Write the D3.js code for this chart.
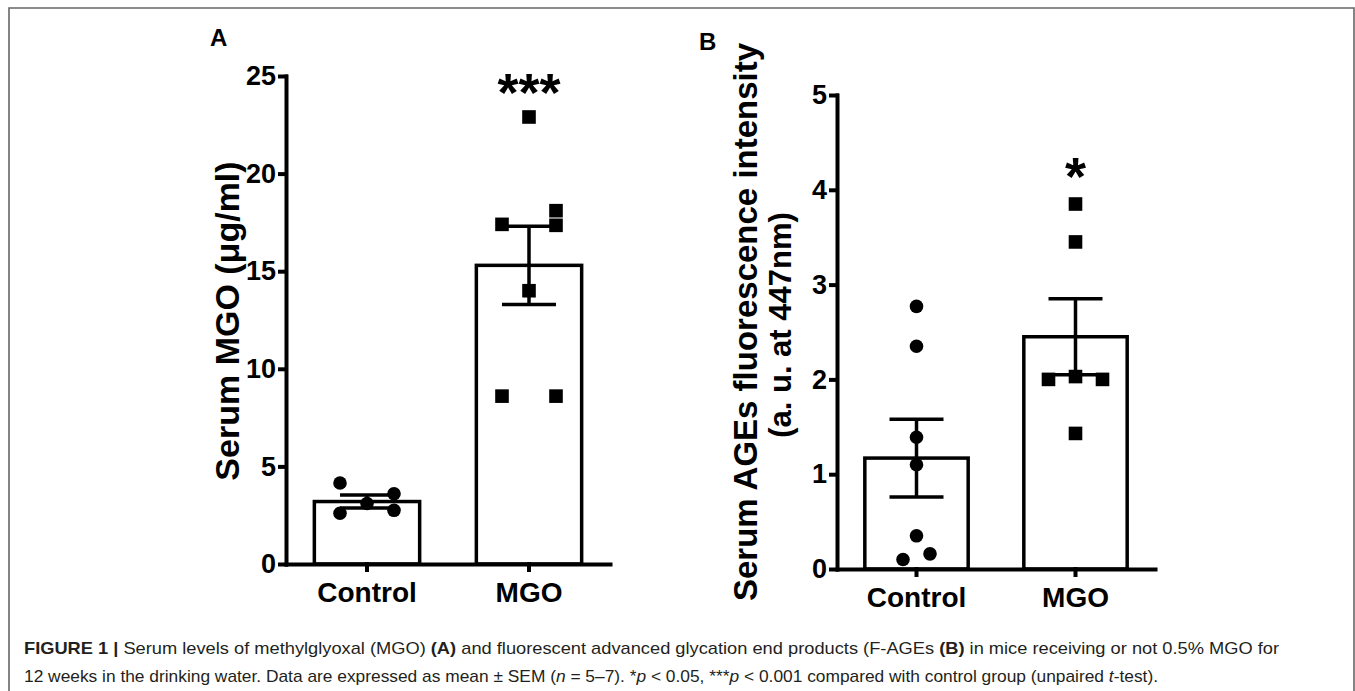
<!DOCTYPE html>
<html>
<head>
<meta charset="utf-8">
<script src="https://cdn.jsdelivr.net/npm/d3@7"></script>
<style>
  body { margin: 0; background: #fff; }
  svg { display: block; font-family: "Liberation Sans", Arial, sans-serif; }
  .axis path, .axis line { stroke: #000; stroke-width: 4; stroke-linecap: square; }
  .axis text { font-size: 27px; font-weight: bold; fill: #000; }
  .xaxis text { font-size: 28px; }
  .bar { fill: #fff; stroke: #000; stroke-width: 3.5; }
  .err { stroke: #000; stroke-width: 3.5; }
  .ylabel { font-weight: bold; text-anchor: middle; }
  .panel { font-size: 24px; font-weight: bold; }
  .caption { font-size: 17px; fill: #231f20; }
</style>
</head>
<body>
<script>
//Global variables
const width = 1355;
const height = 691;

//Data
const groups = ["Control", "MGO"];

//Panel A: serum MGO (ug/ml)
const mgoControl = [4.15, 2.6, 3.1, 3.6, 2.75];
const mgoTreated = [22.9, 18.1, 17.4, 17.35, 14.0, 8.6, 8.6];
const mgoMean = [3.2, 15.3];
const mgoSem = [0.33, 2.0];
const mgoTicks = [0, 5, 10, 15, 20, 25];

//Panel B: serum AGEs fluorescence (a.u.)
const agesControl = [2.77, 2.35, 1.39, 1.10, 0.35, 0.10, 0.16];
const agesTreated = [3.85, 3.45, 2.0, 2.03, 2.0, 1.43];
const agesMean = [1.17, 2.45];
const agesSem = [0.41, 0.4];
const agesTicks = [0, 1, 2, 3, 4, 5];

//column slot of each dot inside its group (dot plot layout)
const slotA = [[-1, -1, 0, 1, 1], [0, 1, -1, 1, 0, -1, 1]];
const slotB = [[0, 0, 0, 0, 0, -0.5, 0.5], [0, 0, -1, 0, 1, 0]];

const svg = d3.select("body")
    .append("svg")
    .attr("width", width)
    .attr("height", height);

//Frame
svg.append("path")
    .attr("d", `M9,${height} V8 H1354 V${height}`)
    .attr("fill", "none")
    .attr("stroke", "#666")
    .attr("stroke-width", 1.6);

//one bar + dot panel
function drawPanel(opt) {
    const y = d3.scaleLinear()
        .domain([0, opt.max])
        .range([opt.bottom, opt.top]);

    const x = d3.scaleBand()
        .domain(groups)
        .range([opt.left, opt.left + 2 * opt.step])
        .paddingInner(0.35)
        .paddingOuter(0.175);

    const g = svg.append("g");

    //bars
    g.selectAll(".bar")
        .data(groups)
        .join("rect")
        .attr("class", "bar")
        .attr("x", d => x(d))
        .attr("width", x.bandwidth())
        .attr("y", (d, i) => y(opt.mean[i]))
        .attr("height", (d, i) => y(0) - y(opt.mean[i]));

    //dots
    groups.forEach((grp, i) => {
        const cx = x(grp) + x.bandwidth() / 2;
        const pts = opt.values[i].map((v, j) => ({v: v, s: opt.slots[i][j]}));
        if (i === 0) {
            g.selectAll(null)
                .data(pts)
                .join("circle")
                .attr("cx", d => cx + d.s * 27)
                .attr("cy", d => y(d.v))
                .attr("r", 6.8)
                .attr("fill", "#000");
        } else {
            g.selectAll(null)
                .data(pts)
                .join("rect")
                .attr("x", d => cx + d.s * 27 - 6.8)
                .attr("y", d => y(d.v) - 6.8)
                .attr("width", 13.6)
                .attr("height", 13.6)
                .attr("fill", "#000");
        }
    });

    //error bars (mean +/- SEM)
    groups.forEach((grp, i) => {
        const cx = x(grp) + x.bandwidth() / 2;
        const hi = y(opt.mean[i] + opt.sem[i]);
        const lo = y(opt.mean[i] - opt.sem[i]);
        g.append("line").attr("class", "err")
            .attr("x1", cx).attr("x2", cx).attr("y1", hi).attr("y2", lo);
        [hi, lo].forEach(yy => {
            g.append("line").attr("class", "err")
                .attr("x1", cx - 27).attr("x2", cx + 27).attr("y1", yy).attr("y2", yy);
        });
    });

    //significance stars
    g.append("text")
        .attr("x", x("MGO") + x.bandwidth() / 2)
        .attr("y", y(opt.starAt))
        .attr("text-anchor", "middle")
        .attr("font-size", 54)
        .attr("font-weight", "bold")
        .text(opt.stars);

    //axes
    g.append("g")
        .attr("class", "axis")
        .attr("transform", `translate(${opt.left},0)`)
        .call(d3.axisLeft(y).tickValues(opt.ticks).tickFormat(d3.format("d"))
            .tickSize(6).tickSizeOuter(0).tickPadding(4));

    g.append("g")
        .attr("class", "axis xaxis")
        .attr("transform", `translate(0,${opt.bottom})`)
        .call(d3.axisBottom(x).tickSize(6).tickSizeOuter(0).tickPadding(12));

    return g;
}

drawPanel({
    left: 286, step: 162, top: 76, bottom: 564, max: 25,
    values: [mgoControl, mgoTreated], slots: slotA,
    mean: mgoMean, sem: mgoSem, ticks: mgoTicks,
    stars: "***", starAt: 23.2
});

drawPanel({
    left: 837, step: 159, top: 95, bottom: 569, max: 5,
    values: [agesControl, agesTreated], slots: slotB,
    mean: agesMean, sem: agesSem, ticks: agesTicks,
    stars: "*", starAt: 3.95
});

//Panel letters
svg.append("text").attr("class", "panel").attr("x", 210).attr("y", 46).text("A");
svg.append("text").attr("class", "panel").attr("x", 699).attr("y", 50).text("B");

//Y axis titles
svg.append("text")
    .attr("class", "ylabel")
    .attr("font-size", 34)
    .attr("transform", "translate(239,321) rotate(-90)")
    .text("Serum MGO (\u03bcg/ml)");

svg.append("text")
    .attr("class", "ylabel")
    .attr("font-size", 33)
    .attr("transform", "translate(757,322) rotate(-90)")
    .text("Serum AGEs fluorescence intensity");

svg.append("text")
    .attr("class", "ylabel")
    .attr("font-size", 31)
    .attr("transform", "translate(791,325) rotate(-90)")
    .text("(a. u. at 447nm)");

//Caption
const cap1 = svg.append("text")
    .attr("class", "caption")
    .attr("x", 24).attr("y", 654)
    .attr("textLength", 1255)
    .attr("lengthAdjust", "spacingAndGlyphs");
cap1.append("tspan").attr("font-weight", "bold").text("FIGURE 1 | ");
cap1.append("tspan").text("Serum levels of methylglyoxal (MGO) ");
cap1.append("tspan").attr("font-weight", "bold").text("(A)");
cap1.append("tspan").text(" and fluorescent advanced glycation end products (F-AGEs ");
cap1.append("tspan").attr("font-weight", "bold").text("(B)");
cap1.append("tspan").text(" in mice receiving or not 0.5% MGO for");

const cap2 = svg.append("text")
    .attr("class", "caption")
    .attr("x", 24).attr("y", 682)
    .attr("textLength", 1134)
    .attr("lengthAdjust", "spacingAndGlyphs");
cap2.append("tspan").text("12 weeks in the drinking water. Data are expressed as mean \u00b1 SEM (");
cap2.append("tspan").attr("font-style", "italic").text("n");
cap2.append("tspan").text(" = 5\u20137). *");
cap2.append("tspan").attr("font-style", "italic").text("p");
cap2.append("tspan").text(" < 0.05, ***");
cap2.append("tspan").attr("font-style", "italic").text("p");
cap2.append("tspan").text(" < 0.001 compared with control group (unpaired ");
cap2.append("tspan").attr("font-style", "italic").text("t");
cap2.append("tspan").text("-test).");
</script>
</body>
</html>
